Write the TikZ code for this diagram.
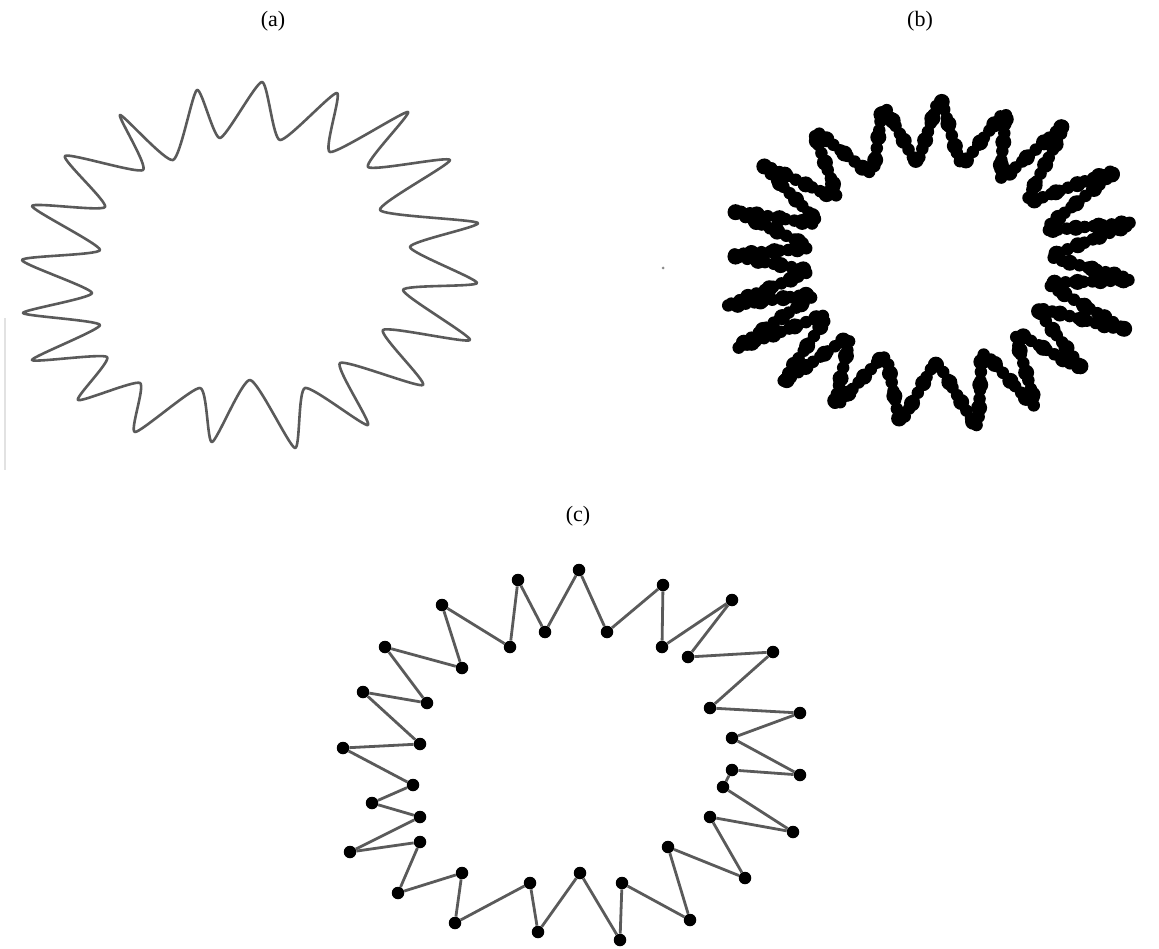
\documentclass[tikz,border=0pt]{standalone}
\usepackage{fontspec}
\setmainfont{Liberation Serif}
\definecolor{lineg}{HTML}{5A5A5A}
\definecolor{faint}{HTML}{E2E2E2}
\tikzset{
  lbl/.style={font=\fontsize{22}{24}\selectfont, inner sep=0pt},
  outlineA/.style={draw=lineg, line width=2.6pt, line join=round},
  blobcore/.style={draw=black, line width=5pt, line join=round, rounded corners=9pt},
  blobdots/.style={draw=black, line width=12.5pt, line cap=round, rounded corners=9pt,
    dash pattern=on 0pt off 9pt},
  blobbig/.style={draw=black, line width=16pt, line cap=round, rounded corners=9pt,
    dash pattern=on 0pt off 23pt, dash phase=5pt},
  dotc/.style={circle, fill=black, inner sep=0pt, minimum size=12.5pt},
  cline/.style={draw=lineg, line width=2.8pt}
}
\begin{document}
\begin{tikzpicture}[x=1pt, y=-1pt]
\useasboundingbox (0,0) rectangle (1159,949);
% labels
\node[lbl] (la) at (273,21) {(a)};
\node[lbl] (lb) at (920,21) {(b)};
\node[lbl] (lc) at (578,516) {(c)};
% scan artefacts
\draw[faint, line width=1.2pt] (5,318) -- (5,470);
\fill[lineg!70] (663,268) circle (1.5pt);
% (a) wavy outline
\draw[outlineA] plot[smooth cycle, tension=0.35] coordinates {
 (22,260) (100,250) (32,206) (105,207) (65,156) (143,170) (120,115) (173,160)
 (197,90) (220,138) (262,82) (280,140) (337,93) (330,152) (408,112) (368,167)
 (450,160) (380,210) (478,223) (410,247) (477,283) (403,290) (470,340) (383,330)
 (423,385) (340,363) (368,425) (305,388) (295,448) (250,380) (212,442) (200,388)
 (135,432) (140,383) (78,400) (107,357) (32,360) (100,325) (23,313) (92,293)};
% (b) blobby outline
\foreach \st in {blobcore, blobdots, blobbig}
\path[\st] (723,307) -- (812,271) -- (727,255) -- (813,248) -- (730,210) -- (821,225)
 -- (760,163) -- (839,200) -- (812,128) -- (873,176) -- (883,103) -- (917,165)
 -- (940,95) -- (961,167) -- (1007,108) -- (999,182) -- (1067,122) -- (1025,204)
 -- (1120,168) -- (1042,231) -- (1137,222) -- (1048,257) -- (1135,280) -- (1045,283)
 -- (1130,332) -- (1035,307) -- (1085,372) -- (1014,331) -- (1037,410) -- (982,350)
 -- (978,430) -- (936,360) -- (900,425) -- (886,353) -- (833,410) -- (851,335)
 -- (780,385) -- (830,313) -- (733,350) -- (818,293) -- cycle;
% (c) dots and zigzag
\foreach \n/\x/\y in {1/343/748, 2/420/744, 3/363/692, 4/427/703, 5/385/647, 6/462/668,
  7/442/605, 8/510/647, 9/518/580, 10/545/632, 11/579/570, 12/607/632, 13/663/585,
  14/662/647, 15/732/600, 16/688/657, 17/773/652, 18/710/708, 19/800/713, 20/732/738,
  21/800/775, 22/732/770, 23/723/787, 24/793/832, 25/710/817, 26/745/878, 27/668/847,
  28/690/920, 29/622/883, 30/620/940, 31/580/873, 32/538/932, 33/530/883, 34/455/923,
  35/462/873, 36/398/893, 37/420/842, 38/350/852, 39/420/817, 40/372/803, 41/413/785}
  \node[dotc] (c\n) at (\x,\y) {};
\foreach \n in {1,...,41} {
  \pgfmathtruncatemacro{\m}{mod(\n,41)+1}
  \draw[cline] (c\n) -- (c\m);
}
\end{tikzpicture}
\end{document}
